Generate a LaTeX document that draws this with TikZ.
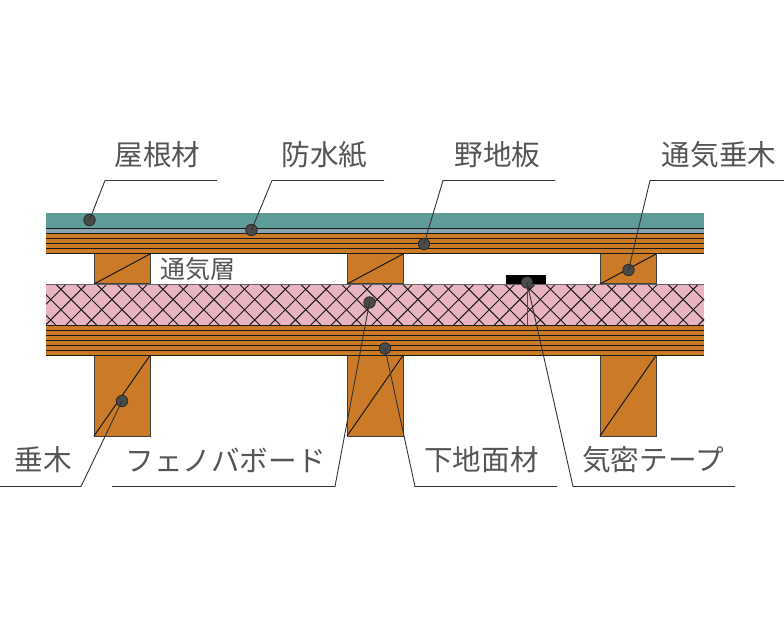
\documentclass[tikz,border=0pt]{standalone}
\usepackage{fontspec}
\newfontfamily\cjk{Noto Sans CJK JP}
\definecolor{teal1}{HTML}{5F9C98}
\definecolor{blue1}{HTML}{8AA3B0}
\definecolor{wood}{HTML}{CB7B28}
\definecolor{pink1}{HTML}{E9B4C1}
\definecolor{txt}{HTML}{555555}
\definecolor{dot}{HTML}{4A4A48}
\tikzset{
 x=1pt,y=-1pt,
 ln/.style={draw=black!90,line width=1pt},
 hatchln/.style={draw=black!90,line width=.95pt},
 woodbox/.style={fill=wood,draw=black!75,line width=1pt},
 lead/.style={draw=black!80,line width=.9pt},
 pin/.style={circle,fill=dot,draw=black!85,line width=.7pt,minimum size=11.5pt,inner sep=0pt},
 lab/.style={font=\cjk\fontsize{28.6}{29}\selectfont,text=txt,inner sep=0pt,anchor=center},
}
\begin{document}
\begin{tikzpicture}
\useasboundingbox (0,0) rectangle (784,628);
% rafters
\foreach \x in {94,347,600}{
 \fill[woodbox] (\x,254) rectangle ++(56,30);
 \draw[ln] (\x,284) -- (\x+56,254);
 \fill[woodbox] (\x,355.5) rectangle ++(56,80.5);
 \draw[ln] (\x,436) -- (\x+56,355.5);
}
% roof
\fill[teal1] (46,213.5) rectangle (704,228.5);
\fill[blue1] (46,228.5) rectangle (704,233);
\fill[wood] (46,233) rectangle (704,254);
\foreach \y in {228.5,233.5,238.5,243.5,248.5,253.5}{\draw[ln] (46,\y) -- (704,\y);}
% insulation
\fill[pink1] (46,284) rectangle (704,324.5);
\begin{scope}
\clip (46,284) rectangle (704,324.5);
\foreach \i in {-4,...,36}{
 \draw[hatchln] (35.2+\i*20.4,284) -- ++(41,41);
 \draw[hatchln] (45.8+\i*20.4,284) -- ++(-41,41);
}
\end{scope}
\draw[draw=black!60,line width=.8pt] (46,284) -- (704,284);
% lower board
\fill[wood] (46,324.5) rectangle (704,355.5);
\foreach \y in {325,330,335,340,345,350,355}{\draw[ln] (46,\y) -- (704,\y);}
% tape
\fill[black] (505.5,275) rectangle (546,284);
\draw[draw=black!70,line width=.8pt] (527,284) -- (527,324.5);
% pins
\node[pin] (p1) at (89.5,220) {};
\node[pin] (p2) at (251.5,230) {};
\node[pin] (p3) at (424,244) {};
\node[pin] (p4) at (628.5,270) {};
\node[pin] (p5) at (122,401) {};
\node[pin] (p6) at (369.5,302.5) {};
\node[pin] (p7) at (385,348.5) {};
\node[pin] (p8) at (527,282.5) {};
% leader corners and ends
\coordinate (c1) at (105,180.5); \coordinate (e1) at (217,180.5);
\coordinate (c2) at (272,180.5); \coordinate (e2) at (384,180.5);
\coordinate (c3) at (443,180.5); \coordinate (e3) at (555,180.5);
\coordinate (c4) at (650,180.5); \coordinate (e4) at (784,180.5);
\coordinate (c5) at (81,486.5);  \coordinate (e5) at (0,486.5);
\coordinate (c6) at (335,486.5); \coordinate (e6) at (112,486.5);
\coordinate (c7) at (415,486.5); \coordinate (e7) at (557,486.5);
\coordinate (c8) at (573,486.5); \coordinate (e8) at (735,486.5);
\foreach \n in {1,...,8}{\draw[lead] (p\n.center) -- (c\n) -- (e\n);}
% labels
\node[lab] (l1) at (157.5,155) {屋根材};
\node[lab] (l2) at (324.5,155) {防水紙};
\node[lab] (l3) at (497.5,155) {野地板};
\node[lab] (l4) at (719,155) {通気垂木};
\node[lab] (l5) at (43.5,460) {垂木};
\node[lab] (l6) at (225.5,460) {フェノバボード};
\node[lab] (l7) at (481.5,460) {下地面材};
\node[lab] (l8) at (653,460) {気密テープ};
\node[lab,font=\cjk\fontsize{25}{25}\selectfont] (l9) at (197.5,269) {通気層};
\end{tikzpicture}
\end{document}
